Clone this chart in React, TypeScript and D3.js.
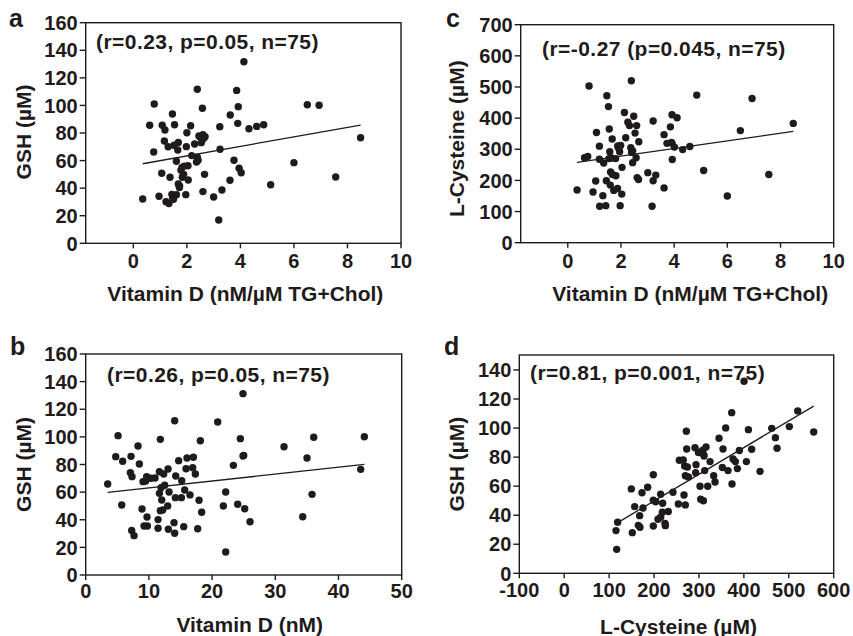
import React from "react";
import * as d3 from "d3";

// ---------- DATA ----------
// Panel a: Vitamin D (nM/µM TG+Chol) vs GSH (µM)
const aX = [0.35,0.78,0.61,0.76,1.08,1.18,1.16,1.06,0.96,1.22,1.33,1.37,1.44,1.47,1.46,1.54,1.52,1.61,1.68,1.66,1.61,1.73,1.72,1.82,1.83,1.88,1.96,1.98,2.0,2.04,2.05,2.14,2.18,2.29,2.39,2.39,2.42,2.45,2.49,2.54,2.58,2.6,2.68,2.66,2.6,3.0,3.19,3.24,3.23,3.31,3.62,3.61,3.76,3.86,3.92,3.9,3.95,4.03,4.13,4.32,4.61,4.87,5.13,6.0,6.5,6.94,7.56,8.49,1.78,1.9,1.68,2.36,1.5,2.62,1.3];
const aY = [32.1,101,85.6,66.2,85.6,82.2,74.2,50.8,34.1,30.2,28.8,47.9,35.5,33.1,93.8,86,71.1,59.5,73.2,67.7,35.3,41.6,40.4,55.1,47.9,50,35.3,70.1,80.2,56.3,45.9,85.3,63.6,72,111.7,62.4,60.2,77.8,77.3,73,97.9,78.8,77.3,50,37.5,33.6,16.9,68.2,84.6,38.7,93.1,45.7,60.2,110.9,99.1,87,54.4,51.2,131.7,83.1,84.8,86,42.5,58.5,100.5,100.1,48.1,76.6,53,56,43,59,32,76,70];
const aFit = [56.5, 3.45]; // intercept, slope

// Panel c: Vitamin D (nM/µM TG+Chol) vs L-Cysteine (µM)
const cX = [0.35,0.63,0.75,0.8,0.95,1.05,1.08,1.19,1.19,1.2,1.32,1.35,1.43,1.47,1.45,1.53,1.56,1.58,1.61,1.6,1.67,1.65,1.68,1.73,1.8,1.81,1.87,1.88,1.97,1.95,1.99,2.03,2.04,2.13,2.18,2.26,2.32,2.39,2.37,2.44,2.44,2.48,2.53,2.59,2.57,2.61,2.67,2.66,3.01,3.21,3.21,3.31,3.17,3.62,3.62,3.73,3.86,3.92,3.92,3.93,4.01,4.11,4.32,4.59,4.85,5.11,6.0,6.49,6.93,7.56,8.48,1.9,2.4,1.55,3.9];
const cY = [169,273,277,503,163,198,354,310,268,117,151,256,119,472,199,437,365,292,227,185,333,272,219,168,270,215,174,311,119,292,312,156,242,418,337,387,376,520,305,295,257,406,352,376,273,209,324,203,225,391,199,217,117,347,176,319,372,411,319,267,307,401,299,309,474,232,150,360,463,219,383,305,290,270,322];
const cFit = [253.7, 12.2];

// Panel b: Vitamin D (nM) vs GSH (µM)
const bX = [3.48,4.75,5.12,5.85,5.7,7.17,7.07,7.33,7.28,7.65,8.28,8.49,8.91,9.07,9.23,9.7,9.76,9.65,10.34,10.97,11.45,11.45,11.66,11.81,11.66,11.92,12.03,11.81,12.18,12.34,13.03,12.97,13.19,13.08,14.08,13.98,14.08,14.24,14.19,14.71,15.19,15.14,15.51,15.66,15.88,16.03,16.93,17.04,17.35,17.72,17.93,18.14,18.35,20.89,21.78,22.15,22.15,23.37,24.05,24.47,24.89,25.0,25.16,24.89,26.0,31.38,34.34,35.02,35.81,36.08,43.51,44.09,12.5,9.5,16.5];
const bY = [65.9,85.7,100.9,82.3,50.7,85.9,74.1,71.2,32.3,28.5,93.4,80.4,47.8,67.6,35.5,42,35.5,71.2,70,70.2,40.1,33.8,59.1,98.2,74.8,63.2,54.3,46.6,47.1,73.1,76.7,50,60.1,33.1,111.7,37.9,30.2,71.7,56,82.8,68.3,56,35,61.5,76.9,84.7,77.7,85.2,73.1,33.5,54.1,97.2,45.4,110.8,50,60.1,16.7,79.4,51.2,98.7,86.1,86.6,48,131.3,38.6,92.9,42.2,84.7,58.4,99.7,76.5,100.1,65,68,58];
const bFit = [58.06, 0.499];

// Panel d: L-Cysteine (µM) vs GSH (µM)
const dX = [116.8,115.3,119,149.4,151.6,156.9,165,168.7,168,173.2,175.4,185.8,198.4,198.4,198.4,203.6,208.8,214.7,214.7,219.2,218.5,224.4,225.2,231.8,242.2,254.1,256.3,266.7,268.2,269.7,269.7,271.9,272.7,274.2,276.4,291.2,292.7,293.5,298.7,302.4,303.9,304.6,308.4,309.9,311.4,312.8,315.8,319.5,324.7,332.8,335.8,344.7,352.1,353.6,359.5,364.7,372.9,373.6,375.9,381.1,385.5,390,400.4,405.6,410.1,417.4,436,462,470.2,473.9,501.3,519.9,555.5,310,265];
const dY = [16.5,29.4,35.1,58.1,28,45.9,33,31.7,39.7,55.5,45,59.2,67.9,32.6,50.3,49.3,37.2,38.6,54.4,48.2,42,34.4,32.8,42.5,55.8,47.7,77.8,53.9,73.9,47.1,67.2,97.8,85.6,73.2,66.3,86.5,69.3,74.8,83.1,59.9,51,83.5,84.7,50,80.8,70.7,87,59.9,76.9,67.2,62.9,93,72.8,85.6,100.1,70.7,110.6,61.5,78.7,76.9,72.1,84.5,132.2,76.9,98.9,85.4,70.2,99.8,93.4,86.1,101,111.8,97.3,82,78];
const dFit = [13.03, 0.1838];

// Tick values
const vitDTicks = [0, 2, 4, 6, 8, 10];
const vitDnMTicks = [0, 10, 20, 30, 40, 50];
const cysTicks = [-100, 0, 100, 200, 300, 400, 500, 600];
const gshTicks = [0, 20, 40, 60, 80, 100, 120, 140, 160];
const gshTicksD = [0, 20, 40, 60, 80, 100, 120, 140];
const cysYTicks = [0, 100, 200, 300, 400, 500, 600, 700];

// Texts
const letters = ["a", "c", "b", "d"];
const notes = [
  "(r=0.23, p=0.05, n=75)",
  "(r=-0.27 (p=0.045, n=75)",
  "(r=0.26, p=0.05, n=75)",
  "(r=0.81, p=0.001, n=75)",
];
const xTitles = [
  "Vitamin D (nM/\u00b5M TG+Chol)",
  "Vitamin D (nM/\u00b5M TG+Chol)",
  "Vitamin D (nM)",
  "L-Cysteine (\u00b5M)",
];
const yTitles = ["GSH (\u00b5M)", "L-Cysteine (\u00b5M)", "GSH (\u00b5M)", "GSH (\u00b5M)"];

// ---------- LAYOUT ----------
const FONT = "'Liberation Sans', Arial, Helvetica, sans-serif";
const INK = "#1f1b1c";

const panels = [
  {
    xs: aX, ys: aY, fit: aFit, xTicks: vitDTicks, yTicks: gshTicks,
    xDomain: [-1.78, 10], yDomain: [0, 160],
    box: { x0: 85.7, x1: 401, y0: 22.7, y1: 243.3 },
    letterPos: [9, 27], notePos: [96, 49], xTitleDx: 2, yTitleX: 31, yTitleDy: -1,
    xTickBase: 268, xTitleBase: 301,
  },
  {
    xs: cX, ys: cY, fit: cFit, xTicks: vitDTicks, yTicks: cysYTicks,
    xDomain: [-1.77, 10], yDomain: [0, 700],
    box: { x0: 520.7, x1: 833.7, y0: 24.7, y1: 242.7 },
    letterPos: [446, 27], notePos: [542, 56], xTitleDx: 13, yTitleX: 464, yTitleDy: 5,
    xTickBase: 268, xTitleBase: 301,
  },
  {
    xs: bX, ys: bY, fit: bFit, xTicks: vitDnMTicks, yTicks: gshTicks,
    xDomain: [0, 50], yDomain: [0, 160],
    box: { x0: 85.7, x1: 401.7, y0: 354, y1: 575 },
    letterPos: [10, 355], notePos: [107, 382], xTitleDx: 6, yTitleX: 31, yTitleDy: 0,
    xTickBase: 598, xTitleBase: 632,
  },
  {
    xs: dX, ys: dY, fit: dFit, xTicks: cysTicks, yTicks: gshTicksD,
    xDomain: [-100, 600], yDomain: [0, 150.3],
    box: { x0: 519.3, x1: 833.7, y0: 355, y1: 573.3 },
    letterPos: [444, 355], notePos: [530, 380], xTitleDx: 2, yTitleX: 464, yTitleDy: 0,
    xTickBase: 597, xTitleBase: 634,
  },
];

function Panel({ p, i }: { p: any; i: number }) {
  const { box } = p;
  const x = d3.scaleLinear().domain(p.xDomain).range([box.x0, box.x1]);
  const y = d3.scaleLinear().domain(p.yDomain).range([box.y1, box.y0]);
  const [xmin, xmax] = d3.extent(p.xs as number[]) as [number, number];
  const fitLine = d3.line<number>()
    .x((v) => x(v))
    .y((v) => y(p.fit[0] + p.fit[1] * v));
  const cx = (box.x0 + box.x1) / 2;
  const cy = (box.y0 + box.y1) / 2;
  return (
    <g>
      <text x={p.letterPos[0]} y={p.letterPos[1]} fontSize={25} fontWeight="bold" fill={INK}>
        {letters[i]}
      </text>
      <rect x={box.x0} y={box.y0} width={box.x1 - box.x0} height={box.y1 - box.y0}
        fill="none" stroke={INK} strokeWidth={1.4} />
      {p.yTicks.map((t: number) => (
        <g key={"y" + t}>
          <line x1={box.x0 - 6} x2={box.x0} y1={y(t)} y2={y(t)} stroke={INK} strokeWidth={1.4} />
          <text x={box.x0 - 8} y={y(t)} dy="0.36em" textAnchor="end" fontSize={20} fontWeight="bold" fill={INK}>
            {t}
          </text>
        </g>
      ))}
      {p.xTicks.map((t: number) => (
        <g key={"x" + t}>
          <line x1={x(t)} x2={x(t)} y1={box.y1} y2={box.y1 + 5} stroke={INK} strokeWidth={1.4} />
          <text x={x(t)} y={p.xTickBase} textAnchor="middle" fontSize={20} fontWeight="bold" fill={INK}>
            {t}
          </text>
        </g>
      ))}
      <path d={fitLine([xmin, xmax]) || ""} stroke={INK} strokeWidth={1.3} fill="none" />
      {p.xs.map((v: number, k: number) => (
        <circle key={k} cx={x(v)} cy={y(p.ys[k])} r={3.7} fill={INK} />
      ))}
      <text x={p.notePos[0]} y={p.notePos[1]} fontSize={21} fontWeight="bold" fill={INK} letterSpacing={0.45}>
        {notes[i]}
      </text>
      <text x={cx + p.xTitleDx} y={p.xTitleBase} textAnchor="middle" fontSize={21} fontWeight="bold" fill={INK}>
        {xTitles[i]}
      </text>
      <text transform={`translate(${p.yTitleX},${cy + p.yTitleDy}) rotate(-90)`} textAnchor="middle"
        fontSize={21} fontWeight="bold" fill={INK}>
        {yTitles[i]}
      </text>
    </g>
  );
}

export default function App() {
  return (
    <svg width={853} height={636} style={{ position: "absolute", left: 0, top: 0, background: "#fff" }}
      fontFamily={FONT}>
      <rect width={853} height={636} fill="#fff" />
      {panels.map((p, i) => (
        <Panel key={i} p={p} i={i} />
      ))}
    </svg>
  );
}
